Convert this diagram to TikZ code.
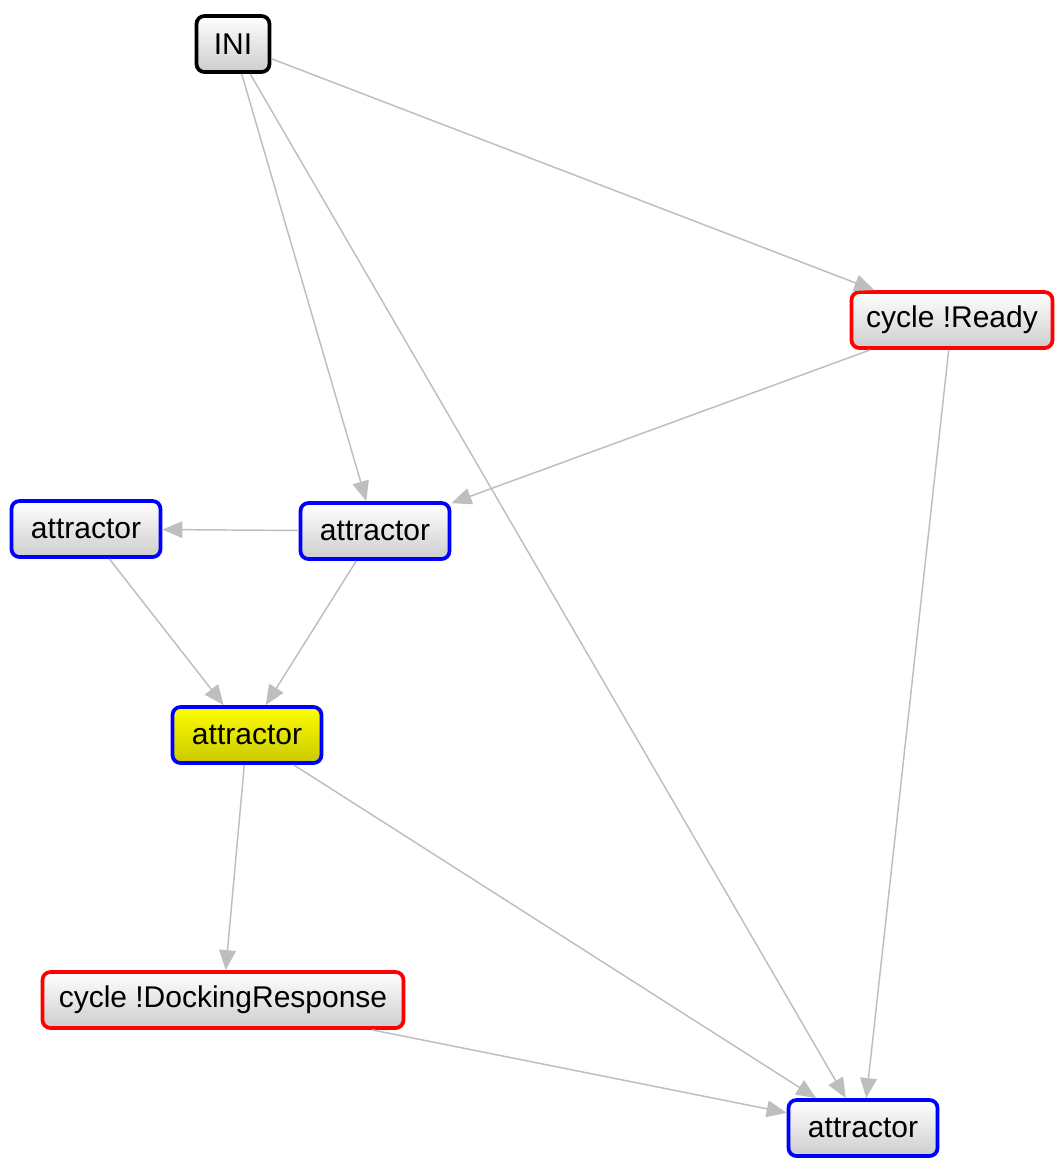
\documentclass[tikz,border=0pt]{standalone}
\usepackage{fontspec}
\setmainfont{Liberation Sans}
\usetikzlibrary{arrows.meta}
\definecolor{edgegray}{RGB}{190,190,190}
\definecolor{boxbottom}{RGB}{205,205,205}
\definecolor{yelbottom}{RGB}{200,200,0}
\begin{document}
\begin{tikzpicture}[x=0.75pt,y=-0.75pt,
  box/.style={rectangle,rounded corners=6pt,line width=2.8pt,inner sep=0pt,
    minimum height=42pt,top color=white,bottom color=boxbottom,
    font=\fontsize{22.5}{25}\selectfont,text=black},
  attr/.style={box,draw=blue,minimum width=111.75pt},
  cyc/.style={box,draw=red},
  ini/.style={box,draw=black,minimum width=54.75pt},
  goal/.style={attr,top color=yellow,bottom color=yelbottom},
  edge/.style={draw=edgegray,line width=1.1pt,
    -{Triangle[length=15pt,width=12.5pt]}}]
\useasboundingbox (0,0) rectangle (1063,1161);
% states
\node[ini]  (ini)   at (233,44)   {INI};
\node[cyc,minimum width=150.75pt] (ready) at (952,320) {cycle !Ready};
\node[attr] (left)  at (86,529)   {attractor};
\node[attr] (mid)   at (375,531)  {attractor};
\node[goal] (yel)   at (247,735)  {attractor};
\node[cyc,minimum width=270.75pt] (dock) at (223,1000) {cycle !DockingResponse};
\node[attr] (bot)   at (863,1128) {attractor};
% transitions
\draw[edge] (ini) -- (ready);
\draw[edge] (ini) -- (mid);
\draw[edge] (ini) -- (bot);
\draw[edge] (ready) -- (mid);
\draw[edge] (ready) -- (bot);
\draw[edge] (mid) -- (left);
\draw[edge] (left) -- (yel);
\draw[edge] (mid) -- (yel);
\draw[edge] (yel) -- (dock);
\draw[edge] (yel) -- (bot);
\draw[edge] (dock) -- (bot);
\end{tikzpicture}
\end{document}
